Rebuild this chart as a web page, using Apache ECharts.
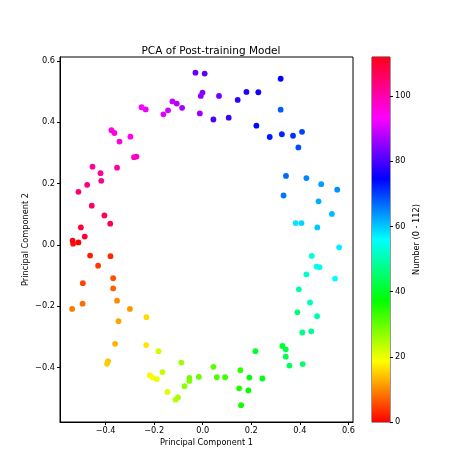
<!DOCTYPE html>
<html>
<head>
<meta charset="utf-8">
<script src="https://cdn.jsdelivr.net/npm/echarts@6/dist/echarts.min.js"></script>
<style>
  html, body { margin: 0; padding: 0; background: #fff; }
  #main { width: 474px; height: 474px; }
</style>
</head>
<body>
<div id="main"></div>
<script>
// principal component values, in order of number
const pc1 = [
  -0.512, -0.534, -0.464, -0.380, -0.431, -0.494, -0.369, -0.369, -0.495, -0.538,
  -0.353, -0.300, -0.347, -0.361, -0.390, -0.394, -0.232, -0.233, -0.218, -0.207,
  -0.189, -0.145, -0.182, -0.166, -0.112, -0.102, -0.088, -0.075, -0.055, -0.055,
  -0.016, 0.044, 0.058, 0.092, 0.155, 0.150, 0.158, 0.188, 0.192, 0.246,
  0.217, 0.328, 0.342, 0.342, 0.357, 0.412, 0.390, 0.410, 0.447, 0.396,
  0.471, 0.442, 0.427, 0.449, 0.469, 0.481, 0.545, 0.562, 0.383, 0.407,
  0.472, 0.532, 0.477, 0.488, 0.554, 0.427, 0.333, 0.343, 0.321, 0.394,
  0.409, 0.372, 0.326, 0.276, 0.221, 0.321, 0.229, 0.180, 0.144, 0.107,
  0.044, 0.008, -0.030, 0.067, -0.001, -0.008, -0.012, -0.085, -0.107, -0.125,
  -0.143, -0.162, -0.235, -0.252, -0.298, -0.376, -0.364, -0.343, -0.283, -0.273,
  -0.353, -0.454, -0.421, -0.418, -0.476, -0.512, -0.457, -0.405, -0.381, -0.502,
  -0.486, -0.536
];
const pc2 = [
  0.008, 0.004, -0.035, -0.037, -0.068, -0.125, -0.109, -0.142, -0.192, -0.209,
  -0.182, -0.209, -0.249, -0.323, -0.380, -0.388, -0.236, -0.327, -0.426, -0.433,
  -0.438, -0.480, -0.347, -0.415, -0.505, -0.498, -0.384, -0.461, -0.444, -0.434,
  -0.431, -0.398, -0.432, -0.432, -0.409, -0.468, -0.523, -0.475, -0.433, -0.436,
  -0.347, -0.330, -0.341, -0.365, -0.394, -0.389, -0.220, -0.286, -0.282, -0.145,
  -0.233, -0.188, -0.096, -0.036, -0.071, -0.073, -0.110, -0.008, 0.071, 0.071,
  0.057, 0.101, 0.142, 0.198, 0.180, 0.218, 0.161, 0.225, 0.441, 0.318,
  0.369, 0.356, 0.361, 0.352, 0.389, 0.542, 0.498, 0.499, 0.473, 0.415,
  0.409, 0.559, 0.562, 0.486, 0.497, 0.486, 0.429, 0.447, 0.461, 0.468,
  0.439, 0.426, 0.442, 0.449, 0.353, 0.374, 0.365, 0.337, 0.286, 0.288,
  0.252, 0.255, 0.234, 0.209, 0.196, 0.173, 0.128, 0.096, 0.069, 0.057,
  0.027, 0.014
];
const numbers = [
  0, 1, 2, 3, 4, 5, 6, 7, 8, 9, 10, 11, 12, 13, 14, 15, 16, 17, 18, 19,
  20, 21, 22, 23, 24, 25, 26, 27, 28, 29, 30, 31, 32, 33, 34, 35, 36, 37, 38, 39,
  40, 41, 42, 43, 44, 45, 46, 47, 48, 49, 50, 51, 52, 53, 54, 55, 56, 57, 58, 59,
  60, 61, 62, 63, 64, 65, 66, 67, 68, 69, 70, 71, 72, 73, 74, 75, 76, 77, 78, 79,
  80, 81, 82, 83, 84, 85, 86, 87, 88, 89, 90, 91, 92, 93, 94, 95, 96, 97, 98, 99,
  100, 101, 102, 103, 104, 105, 106, 107, 108, 109, 110, 112
];
const pcTicks = [-0.4, -0.2, 0.0, 0.2, 0.4, 0.6];
const cbTicks = [0, 20, 40, 60, 80, 100];
const numMax = 112;

// matplotlib 'hsv' colormap, evenly spaced stops
const hsvStops = [[255, 0, 0], [255, 255, 0], [0, 255, 0], [0, 255, 255], [0, 0, 255], [255, 0, 255], [255, 0, 24]];

const font = 'DejaVu Sans';
const fmt = v => (v < 0 ? '\u2212' : '') + Math.abs(v).toFixed(1);

function hsvColor(t) {
  t = Math.max(0, Math.min(1, t)) * (hsvStops.length - 1);
  let i = Math.min(Math.floor(t), hsvStops.length - 2);
  let f = t - i;
  let a = hsvStops[i], b = hsvStops[i + 1];
  let c = a.map((v, k) => Math.round(v + (b[k] - v) * f));
  return 'rgb(' + c.join(',') + ')';
}

let points = pc1.map((x, i) => [x, pc2[i], numbers[i]]);

let gradStops = hsvStops.map((c, i) => ({ offset: i / (hsvStops.length - 1), color: 'rgb(' + c.join(',') + ')' }));

let axisCommon = {
  axisLine: { show: true, onZero: false, lineStyle: { color: '#000', width: 1 } },
  splitLine: { show: false },
  axisLabel: { color: '#000', fontSize: 8.2, fontFamily: font, margin: 5 },
  axisTick: { show: true, length: 3, lineStyle: { color: '#000' } },
  nameTextStyle: { color: '#000', fontSize: 8.2, fontFamily: font },
  nameMoveOverlap: false
};

let myChart = echarts.init(document.getElementById('main'));
myChart.setOption({
  backgroundColor: '#fff',
  animation: false,
  title: {
    text: 'PCA of Post-training Model',
    left: 206,
    top: 41,
    textAlign: 'center',
    textStyle: { color: '#000', fontSize: 10.5, fontWeight: 'normal', fontFamily: font }
  },
  grid: [
    { left: 60, right: 121, top: 57, bottom: 52, show: true, borderColor: '#000', borderWidth: 1 },
    { left: 372, width: 18, top: 57, bottom: 52, show: true, borderColor: '#333', borderWidth: 1 }
  ],
  xAxis: [
    Object.assign({}, axisCommon, {
      gridIndex: 0, type: 'value', min: -0.588, max: 0.619,
      name: 'Principal Component 1', nameLocation: 'middle', nameGap: 17,
      axisLabel: Object.assign({}, axisCommon.axisLabel, { customValues: pcTicks, formatter: fmt }),
      axisTick: Object.assign({}, axisCommon.axisTick, { customValues: pcTicks })
    }),
    { gridIndex: 1, type: 'category', data: ['cb'], show: false }
  ],
  yAxis: [
    Object.assign({}, axisCommon, {
      gridIndex: 0, type: 'value', min: -0.578, max: 0.613,
      name: 'Principal Component 2', nameLocation: 'middle', nameGap: 30,
      axisLabel: Object.assign({}, axisCommon.axisLabel, { customValues: pcTicks, formatter: fmt }),
      axisTick: Object.assign({}, axisCommon.axisTick, { customValues: pcTicks })
    }),
    Object.assign({}, axisCommon, {
      gridIndex: 1, type: 'value', min: 0, max: numMax, position: 'right',
      axisLine: { show: false },
      name: 'Number (0 - 112)', nameLocation: 'middle', nameGap: 23, nameRotate: 90,
      axisLabel: Object.assign({}, axisCommon.axisLabel, { customValues: cbTicks }),
      axisTick: Object.assign({}, axisCommon.axisTick, { customValues: cbTicks })
    })
  ],
  series: [
    {
      type: 'scatter',
      xAxisIndex: 0,
      yAxisIndex: 0,
      symbolSize: 5.8,
      data: points,
      itemStyle: {
        opacity: 1,
        color: p => hsvColor(p.value[2] / numMax)
      }
    },
    {
      // colorbar
      type: 'bar',
      xAxisIndex: 1,
      yAxisIndex: 1,
      barWidth: '100%',
      silent: true,
      data: [numMax],
      itemStyle: {
        color: new echarts.graphic.LinearGradient(0, 1, 0, 0, gradStops)
      }
    }
  ]
});
</script>
</body>
</html>
